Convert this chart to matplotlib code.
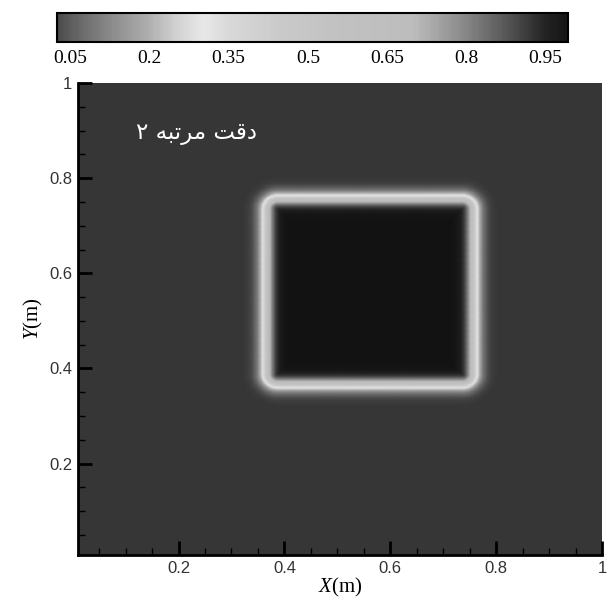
import numpy as np
import matplotlib
matplotlib.use('Agg')
import matplotlib.pyplot as plt
from matplotlib.colors import LinearSegmentedColormap, Normalize
from matplotlib.cm import ScalarMappable
from matplotlib.ticker import MultipleLocator

# square region (inside value 1, outside value 0)
sq_x = [0.366, 0.758]
sq_y = [0.367, 0.758]
corner_r = 0.022
smear = 0.016
grid_n = 400

# colour map nodes
cmap_pos = [0.0, 0.05, 0.12, 0.2, 0.25, 0.3, 0.35, 0.45, 0.55, 0.7, 0.8, 0.88, 0.95, 1.0]
cmap_gray = [0.21, 0.37, 0.53, 0.69, 0.82, 0.91, 0.85, 0.79, 0.76, 0.74, 0.53, 0.33, 0.14, 0.07]

cbar_ticks = [0.05, 0.2, 0.35, 0.5, 0.65, 0.8, 0.95]
cbar_labels = ['0.05', '0.2', '0.35', '0.5', '0.65', '0.8', '0.95']
cbar_range = [0.025, 0.993]
ax_ticks = [0.2, 0.4, 0.6, 0.8, 1.0]
ax_labels = ['0.2', '0.4', '0.6', '0.8', '1']

# persian label in visual order, presentation forms: "دقت مرتبه ۲"
title_txt = '\u06F2 \uFEEA\uFE92\uFE97\uFEAE\uFEE3 \uFE96\uFED7\uFEA9'

plt.rcParams['mathtext.fontset'] = 'custom'
plt.rcParams['mathtext.it'] = 'Liberation Serif:italic'
plt.rcParams['mathtext.rm'] = 'Liberation Serif'

x = np.linspace(0, 1, grid_n)
y = np.linspace(0, 1, grid_n)
X, Y = np.meshgrid(x, y)
cx = 0.5 * (sq_x[0] + sq_x[1])
cy = 0.5 * (sq_y[0] + sq_y[1])
hx = 0.5 * (sq_x[1] - sq_x[0]) - corner_r
hy = 0.5 * (sq_y[1] - sq_y[0]) - corner_r
qx = np.abs(X - cx) - hx
qy = np.abs(Y - cy) - hy
d = np.hypot(np.maximum(qx, 0), np.maximum(qy, 0)) + np.minimum(np.maximum(qx, qy), 0) - corner_r
F = 0.5 * (1 - np.tanh(d / smear))

cmap = LinearSegmentedColormap.from_list(
    'tec', list(zip(cmap_pos, [(g, g, g) for g in cmap_gray])))
norm = Normalize(0, 1)

fig = plt.figure(figsize=(6.13, 6.01), dpi=100)
ax = fig.add_axes([0.1272, 0.0765, 0.8548, 0.7855])
ax.pcolormesh(X, Y, F, cmap=cmap, norm=norm, shading='gouraud')
ax.set_xlim(0.01, 1.0)
ax.set_ylim(0.008, 1.0)

for s in ['top', 'right']:
    ax.spines[s].set_visible(False)
for s in ['left', 'bottom']:
    ax.spines[s].set_linewidth(2)

ax.set_xticks(ax_ticks)
ax.set_xticklabels(ax_labels)
ax.set_yticks(ax_ticks)
ax.set_yticklabels(ax_labels)
ax.xaxis.set_minor_locator(MultipleLocator(0.05))
ax.yaxis.set_minor_locator(MultipleLocator(0.05))
ax.tick_params(which='major', direction='in', length=10, width=2, pad=4)
ax.tick_params(which='minor', direction='in', length=5, width=1, color='black')
ax.tick_params(labelsize=12, labelcolor='#333333')
for lab in ax.get_xticklabels() + ax.get_yticklabels():
    lab.set_family('Liberation Sans')

ax.set_xlabel(r'$X$(m)', fontsize=15, family='Liberation Serif', labelpad=0)
ax.set_ylabel(r'$Y$(m)', fontsize=15, family='Liberation Serif', labelpad=3)

ax.text(0.12, 0.893, title_txt, color='white', fontsize=16.5,
        family='DejaVu Sans', va='center', ha='left')

cax = fig.add_axes([0.093, 0.930, 0.834, 0.048])
cb = fig.colorbar(ScalarMappable(norm=norm, cmap=cmap), cax=cax,
                  orientation='horizontal',
                  boundaries=np.linspace(cbar_range[0], cbar_range[1], 300))
cb.set_ticks(cbar_ticks)
cb.set_ticklabels(cbar_labels)
cax.tick_params(length=0, pad=6, labelsize=14)
for lab in cax.get_xticklabels():
    lab.set_family('Liberation Serif')
cb.outline.set_linewidth(1.5)

fig.savefig('out.png', dpi=100)
